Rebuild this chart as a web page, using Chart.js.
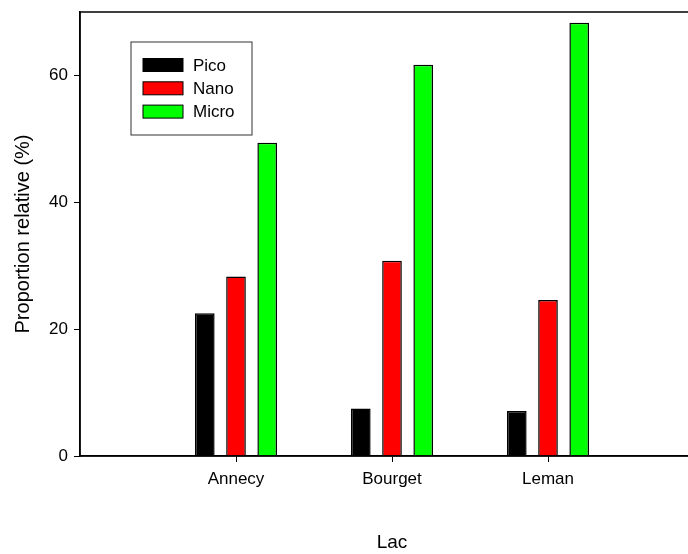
<!DOCTYPE html>
<html>
<head>
<meta charset="utf-8">
<script src="https://cdn.jsdelivr.net/npm/chart.js@4/dist/chart.umd.min.js"></script>
<style>
  body { margin: 0; overflow: hidden; background: #fff; }
  #wrap { width: 720px; height: 554px; }
</style>
</head>
<body>
<div id="wrap"><canvas id="lakeChart"></canvas></div>
<script>
const lakes = ["Annecy", "Bourget", "Leman"];
const pico = [22.5, 7.5, 7.1];
const nano = [28.3, 30.8, 24.6];
const micro = [49.4, 61.7, 68.3];
const yTicks = [0, 20, 40, 60];

const fontFamily = "'Liberation Sans', Arial, sans-serif";

// empty slot at each end so the lakes sit at 1, 2, 3 on a 0..4 axis
const labels = ["", ...lakes, ""];
function pad(values) {
  return [null, ...values, null];
}

// frame around the plot area
const framePlugin = {
  id: "frame",
  afterDraw(chart) {
    const a = chart.chartArea;
    const ctx = chart.ctx;
    ctx.save();
    ctx.strokeStyle = "#000";
    ctx.lineWidth = 1.5;
    ctx.strokeRect(a.left, a.top, a.right - a.left, a.bottom - a.top);
    ctx.restore();
  }
};

// legend box inside the plot, like the original
const boxLegend = {
  id: "boxLegend",
  afterDraw(chart) {
    const a = chart.chartArea;
    const ctx = chart.ctx;
    const x = a.left + 51;
    const y = a.top + 30;
    ctx.save();
    ctx.strokeStyle = "#333";
    ctx.lineWidth = 1;
    ctx.strokeRect(x, y, 121, 93);
    ctx.font = "17px " + fontFamily;
    ctx.textBaseline = "middle";
    chart.data.datasets.forEach((ds, i) => {
      const cy = y + 23 + i * 23.3;
      ctx.fillStyle = ds.backgroundColor;
      ctx.fillRect(x + 12, cy - 6.5, 40, 13);
      ctx.strokeStyle = "#000";
      ctx.lineWidth = 1;
      ctx.strokeRect(x + 12, cy - 6.5, 40, 13);
      ctx.fillStyle = "#000";
      ctx.fillText(ds.label, x + 62, cy + 1);
    });
    ctx.restore();
  }
};

function makeSet(label, values, color) {
  return {
    label: label,
    data: pad(values),
    backgroundColor: color,
    borderColor: "#000",
    borderWidth: 1.5,
    categoryPercentage: 0.6,
    barPercentage: 0.63
  };
}

new Chart(document.getElementById("lakeChart"), {
  type: "bar",
  data: {
    labels: labels,
    datasets: [
      makeSet("Pico", pico, "#000000"),
      makeSet("Nano", nano, "#ff0000"),
      makeSet("Micro", micro, "#00ff00")
    ]
  },
  options: {
    responsive: true,
    maintainAspectRatio: false,
    animation: false,
    layout: { padding: { top: 12, right: 16, left: 0, bottom: 0 } },
    plugins: {
      legend: { display: false },
      tooltip: { enabled: false }
    },
    scales: {
      x: {
        offset: false,
        grid: {
          offset: false,
          drawOnChartArea: false,
          drawTicks: true,
          tickLength: 6,
          color: ctx => (labels[ctx.index] ? "#000" : "rgba(0,0,0,0)")
        },
        border: { display: true, color: "#000", width: 1.5 },
        ticks: {
          color: "#000",
          padding: 7,
          maxRotation: 0,
          autoSkip: false,
          font: { family: fontFamily, size: 17 }
        },
        title: {
          display: true,
          text: "Lac",
          color: "#000",
          padding: { top: 0, bottom: 0 },
          font: { family: fontFamily, size: 19 }
        },
        afterFit(scale) {
          scale.height = 98;
          scale.paddingLeft = 0;
          scale.paddingRight = 0;
        }
      },
      y: {
        min: 0,
        max: 70,
        grid: {
          drawOnChartArea: false,
          drawTicks: true,
          tickLength: 6,
          color: "#000"
        },
        border: { display: true, color: "#000", width: 1.5 },
        ticks: {
          stepSize: 20,
          includeBounds: false,
          color: "#000",
          padding: 6,
          font: { family: fontFamily, size: 17 },
          callback: v => (yTicks.includes(v) ? v : "")
        },
        title: {
          display: true,
          text: "Proportion relative (%)",
          color: "#000",
          padding: { top: 11, bottom: 0 },
          font: { family: fontFamily, size: 20 }
        },
        afterFit(scale) {
          scale.width = 80;
          scale.paddingTop = 0;
          scale.paddingBottom = 0;
        }
      }
    }
  },
  plugins: [framePlugin, boxLegend]
});
</script>
</body>
</html>
